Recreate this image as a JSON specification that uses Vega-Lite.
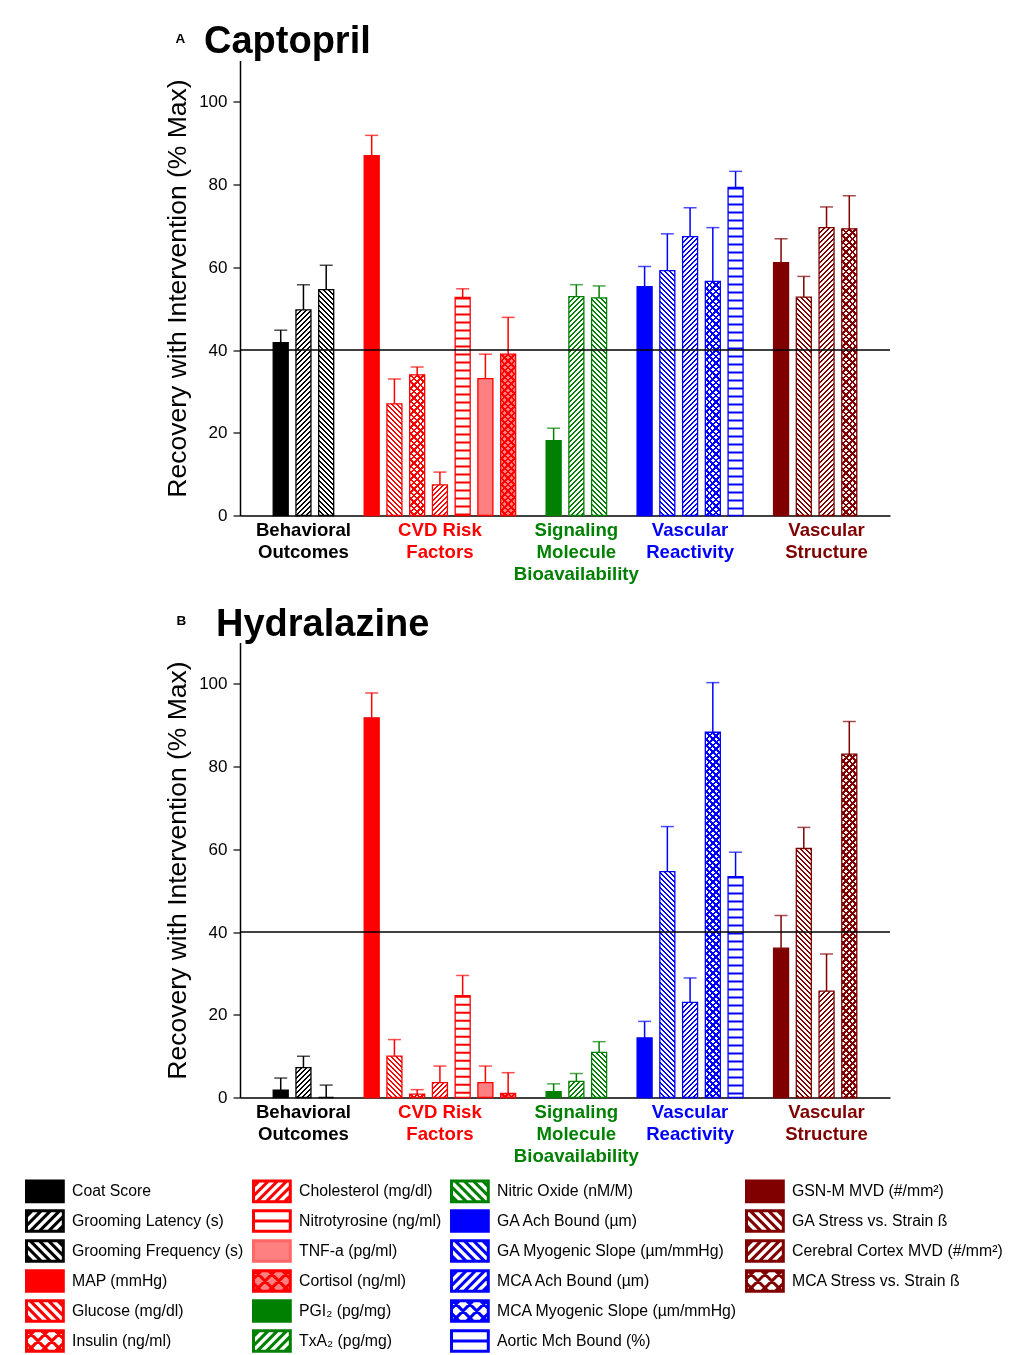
{
"$schema": "https://vega.github.io/schema/vega-lite/v6.json",
"padding": {"left": 25, "top": 22.5, "right": 0, "bottom": 0},
"background": "white",
"bounds": "flush",
"spacing": 127,
"config": {
 "font": "Liberation Sans",
 "view": {"stroke": null},
 "axis": {"domainColor": "#000", "tickColor": "#000", "labelColor": "#000", "titleColor": "#000", "labelFont": "Liberation Sans", "titleFont": "Liberation Sans", "grid": false},
 "title": {"font": "Liberation Sans", "color": "#000"}
},
"params": [
 {"name": "pat", "value": {"Coat Score":"s","Grooming Latency (s)":"f","Grooming Frequency (s)":"b","MAP (mmHg)":"s","Glucose (mg/dl)":"b","Insulin (ng/ml)":"x","Cholesterol (mg/dl)":"f","Nitrotyrosine (ng/ml)":"h","TNF-a (pg/ml)":"l","Cortisol (ng/ml)":"lx","PGI₂ (pg/mg)":"s","TxA₂ (pg/mg)":"f","Nitric Oxide (nM/M)":"b","GA Ach Bound (µm)":"s","GA Myogenic Slope (µm/mmHg)":"b","MCA Ach Bound (µm)":"f","MCA Myogenic Slope (µm/mmHg)":"x","Aortic Mch Bound (%)":"h","GSN-M MVD (#/mm²)":"s","GA Stress vs. Strain ß":"b","Cerebral Cortex MVD (#/mm²)":"f","MCA Stress vs. Strain ß":"x"}},
 {"name": "S", "value": [
{"offset":0,"color":"#000"},{"offset":0.004,"color":"#000"},{"offset":0.004,"color":"#fff"},{"offset":0.01,"color":"#fff"},
{"offset":0.01,"color":"#000"},{"offset":0.014,"color":"#000"},{"offset":0.014,"color":"#fff"},{"offset":0.02,"color":"#fff"},
{"offset":0.02,"color":"#000"},{"offset":0.024,"color":"#000"},{"offset":0.024,"color":"#fff"},{"offset":0.03,"color":"#fff"},
{"offset":0.03,"color":"#000"},{"offset":0.034,"color":"#000"},{"offset":0.034,"color":"#fff"},{"offset":0.04,"color":"#fff"},
{"offset":0.04,"color":"#000"},{"offset":0.044,"color":"#000"},{"offset":0.044,"color":"#fff"},{"offset":0.05,"color":"#fff"},
{"offset":0.05,"color":"#000"},{"offset":0.054,"color":"#000"},{"offset":0.054,"color":"#fff"},{"offset":0.06,"color":"#fff"},
{"offset":0.06,"color":"#000"},{"offset":0.064,"color":"#000"},{"offset":0.064,"color":"#fff"},{"offset":0.07,"color":"#fff"},
{"offset":0.07,"color":"#000"},{"offset":0.074,"color":"#000"},{"offset":0.074,"color":"#fff"},{"offset":0.08,"color":"#fff"},
{"offset":0.08,"color":"#000"},{"offset":0.084,"color":"#000"},{"offset":0.084,"color":"#fff"},{"offset":0.09,"color":"#fff"},
{"offset":0.09,"color":"#000"},{"offset":0.094,"color":"#000"},{"offset":0.094,"color":"#fff"},{"offset":0.1,"color":"#fff"},
{"offset":0.1,"color":"#000"},{"offset":0.104,"color":"#000"},{"offset":0.104,"color":"#fff"},{"offset":0.11,"color":"#fff"},
{"offset":0.11,"color":"#000"},{"offset":0.114,"color":"#000"},{"offset":0.114,"color":"#fff"},{"offset":0.12,"color":"#fff"},
{"offset":0.12,"color":"#000"},{"offset":0.124,"color":"#000"},{"offset":0.124,"color":"#fff"},{"offset":0.13,"color":"#fff"},
{"offset":0.13,"color":"#000"},{"offset":0.134,"color":"#000"},{"offset":0.134,"color":"#fff"},{"offset":0.14,"color":"#fff"},
{"offset":0.14,"color":"#000"},{"offset":0.144,"color":"#000"},{"offset":0.144,"color":"#fff"},{"offset":0.15,"color":"#fff"},
{"offset":0.15,"color":"#000"},{"offset":0.154,"color":"#000"},{"offset":0.154,"color":"#fff"},{"offset":0.16,"color":"#fff"},
{"offset":0.16,"color":"#000"},{"offset":0.164,"color":"#000"},{"offset":0.164,"color":"#fff"},{"offset":0.17,"color":"#fff"},
{"offset":0.17,"color":"#000"},{"offset":0.174,"color":"#000"},{"offset":0.174,"color":"#fff"},{"offset":0.18,"color":"#fff"},
{"offset":0.18,"color":"#000"},{"offset":0.184,"color":"#000"},{"offset":0.184,"color":"#fff"},{"offset":0.19,"color":"#fff"},
{"offset":0.19,"color":"#000"},{"offset":0.194,"color":"#000"},{"offset":0.194,"color":"#fff"},{"offset":0.2,"color":"#fff"},
{"offset":0.2,"color":"#000"},{"offset":0.204,"color":"#000"},{"offset":0.204,"color":"#fff"},{"offset":0.21,"color":"#fff"},
{"offset":0.21,"color":"#000"},{"offset":0.214,"color":"#000"},{"offset":0.214,"color":"#fff"},{"offset":0.22,"color":"#fff"},
{"offset":0.22,"color":"#000"},{"offset":0.224,"color":"#000"},{"offset":0.224,"color":"#fff"},{"offset":0.23,"color":"#fff"},
{"offset":0.23,"color":"#000"},{"offset":0.234,"color":"#000"},{"offset":0.234,"color":"#fff"},{"offset":0.24,"color":"#fff"},
{"offset":0.24,"color":"#000"},{"offset":0.244,"color":"#000"},{"offset":0.244,"color":"#fff"},{"offset":0.25,"color":"#fff"},
{"offset":0.25,"color":"#000"},{"offset":0.254,"color":"#000"},{"offset":0.254,"color":"#fff"},{"offset":0.26,"color":"#fff"},
{"offset":0.26,"color":"#000"},{"offset":0.264,"color":"#000"},{"offset":0.264,"color":"#fff"},{"offset":0.27,"color":"#fff"},
{"offset":0.27,"color":"#000"},{"offset":0.274,"color":"#000"},{"offset":0.274,"color":"#fff"},{"offset":0.28,"color":"#fff"},
{"offset":0.28,"color":"#000"},{"offset":0.284,"color":"#000"},{"offset":0.284,"color":"#fff"},{"offset":0.29,"color":"#fff"},
{"offset":0.29,"color":"#000"},{"offset":0.294,"color":"#000"},{"offset":0.294,"color":"#fff"},{"offset":0.3,"color":"#fff"},
{"offset":0.3,"color":"#000"},{"offset":0.304,"color":"#000"},{"offset":0.304,"color":"#fff"},{"offset":0.31,"color":"#fff"},
{"offset":0.31,"color":"#000"},{"offset":0.314,"color":"#000"},{"offset":0.314,"color":"#fff"},{"offset":0.32,"color":"#fff"},
{"offset":0.32,"color":"#000"},{"offset":0.324,"color":"#000"},{"offset":0.324,"color":"#fff"},{"offset":0.33,"color":"#fff"},
{"offset":0.33,"color":"#000"},{"offset":0.334,"color":"#000"},{"offset":0.334,"color":"#fff"},{"offset":0.34,"color":"#fff"},
{"offset":0.34,"color":"#000"},{"offset":0.344,"color":"#000"},{"offset":0.344,"color":"#fff"},{"offset":0.35,"color":"#fff"},
{"offset":0.35,"color":"#000"},{"offset":0.354,"color":"#000"},{"offset":0.354,"color":"#fff"},{"offset":0.36,"color":"#fff"},
{"offset":0.36,"color":"#000"},{"offset":0.364,"color":"#000"},{"offset":0.364,"color":"#fff"},{"offset":0.37,"color":"#fff"},
{"offset":0.37,"color":"#000"},{"offset":0.374,"color":"#000"},{"offset":0.374,"color":"#fff"},{"offset":0.38,"color":"#fff"},
{"offset":0.38,"color":"#000"},{"offset":0.384,"color":"#000"},{"offset":0.384,"color":"#fff"},{"offset":0.39,"color":"#fff"},
{"offset":0.39,"color":"#000"},{"offset":0.394,"color":"#000"},{"offset":0.394,"color":"#fff"},{"offset":0.4,"color":"#fff"},
{"offset":0.4,"color":"#000"},{"offset":0.404,"color":"#000"},{"offset":0.404,"color":"#fff"},{"offset":0.41,"color":"#fff"},
{"offset":0.41,"color":"#000"},{"offset":0.414,"color":"#000"},{"offset":0.414,"color":"#fff"},{"offset":0.42,"color":"#fff"},
{"offset":0.42,"color":"#000"},{"offset":0.424,"color":"#000"},{"offset":0.424,"color":"#fff"},{"offset":0.43,"color":"#fff"},
{"offset":0.43,"color":"#000"},{"offset":0.434,"color":"#000"},{"offset":0.434,"color":"#fff"},{"offset":0.44,"color":"#fff"},
{"offset":0.44,"color":"#000"},{"offset":0.444,"color":"#000"},{"offset":0.444,"color":"#fff"},{"offset":0.45,"color":"#fff"},
{"offset":0.45,"color":"#000"},{"offset":0.454,"color":"#000"},{"offset":0.454,"color":"#fff"},{"offset":0.46,"color":"#fff"},
{"offset":0.46,"color":"#000"},{"offset":0.464,"color":"#000"},{"offset":0.464,"color":"#fff"},{"offset":0.47,"color":"#fff"},
{"offset":0.47,"color":"#000"},{"offset":0.474,"color":"#000"},{"offset":0.474,"color":"#fff"},{"offset":0.48,"color":"#fff"},
{"offset":0.48,"color":"#000"},{"offset":0.484,"color":"#000"},{"offset":0.484,"color":"#fff"},{"offset":0.49,"color":"#fff"},
{"offset":0.49,"color":"#000"},{"offset":0.494,"color":"#000"},{"offset":0.494,"color":"#fff"},{"offset":0.5,"color":"#fff"},
{"offset":0.5,"color":"#000"},{"offset":0.504,"color":"#000"},{"offset":0.504,"color":"#fff"},{"offset":0.51,"color":"#fff"},
{"offset":0.51,"color":"#000"},{"offset":0.514,"color":"#000"},{"offset":0.514,"color":"#fff"},{"offset":0.52,"color":"#fff"},
{"offset":0.52,"color":"#000"},{"offset":0.524,"color":"#000"},{"offset":0.524,"color":"#fff"},{"offset":0.53,"color":"#fff"},
{"offset":0.53,"color":"#000"},{"offset":0.534,"color":"#000"},{"offset":0.534,"color":"#fff"},{"offset":0.54,"color":"#fff"},
{"offset":0.54,"color":"#000"},{"offset":0.544,"color":"#000"},{"offset":0.544,"color":"#fff"},{"offset":0.55,"color":"#fff"},
{"offset":0.55,"color":"#000"},{"offset":0.554,"color":"#000"},{"offset":0.554,"color":"#fff"},{"offset":0.56,"color":"#fff"},
{"offset":0.56,"color":"#000"},{"offset":0.564,"color":"#000"},{"offset":0.564,"color":"#fff"},{"offset":0.57,"color":"#fff"},
{"offset":0.57,"color":"#000"},{"offset":0.574,"color":"#000"},{"offset":0.574,"color":"#fff"},{"offset":0.58,"color":"#fff"},
{"offset":0.58,"color":"#000"},{"offset":0.584,"color":"#000"},{"offset":0.584,"color":"#fff"},{"offset":0.59,"color":"#fff"},
{"offset":0.59,"color":"#000"},{"offset":0.594,"color":"#000"},{"offset":0.594,"color":"#fff"},{"offset":0.6,"color":"#fff"},
{"offset":0.6,"color":"#000"},{"offset":0.604,"color":"#000"},{"offset":0.604,"color":"#fff"},{"offset":0.61,"color":"#fff"},
{"offset":0.61,"color":"#000"},{"offset":0.614,"color":"#000"},{"offset":0.614,"color":"#fff"},{"offset":0.62,"color":"#fff"},
{"offset":0.62,"color":"#000"},{"offset":0.624,"color":"#000"},{"offset":0.624,"color":"#fff"},{"offset":0.63,"color":"#fff"},
{"offset":0.63,"color":"#000"},{"offset":0.634,"color":"#000"},{"offset":0.634,"color":"#fff"},{"offset":0.64,"color":"#fff"},
{"offset":0.64,"color":"#000"},{"offset":0.644,"color":"#000"},{"offset":0.644,"color":"#fff"},{"offset":0.65,"color":"#fff"},
{"offset":0.65,"color":"#000"},{"offset":0.654,"color":"#000"},{"offset":0.654,"color":"#fff"},{"offset":0.66,"color":"#fff"},
{"offset":0.66,"color":"#000"},{"offset":0.664,"color":"#000"},{"offset":0.664,"color":"#fff"},{"offset":0.67,"color":"#fff"},
{"offset":0.67,"color":"#000"},{"offset":0.674,"color":"#000"},{"offset":0.674,"color":"#fff"},{"offset":0.68,"color":"#fff"},
{"offset":0.68,"color":"#000"},{"offset":0.684,"color":"#000"},{"offset":0.684,"color":"#fff"},{"offset":0.69,"color":"#fff"},
{"offset":0.69,"color":"#000"},{"offset":0.694,"color":"#000"},{"offset":0.694,"color":"#fff"},{"offset":0.7,"color":"#fff"},
{"offset":0.7,"color":"#000"},{"offset":0.704,"color":"#000"},{"offset":0.704,"color":"#fff"},{"offset":0.71,"color":"#fff"},
{"offset":0.71,"color":"#000"},{"offset":0.714,"color":"#000"},{"offset":0.714,"color":"#fff"},{"offset":0.72,"color":"#fff"},
{"offset":0.72,"color":"#000"},{"offset":0.724,"color":"#000"},{"offset":0.724,"color":"#fff"},{"offset":0.73,"color":"#fff"},
{"offset":0.73,"color":"#000"},{"offset":0.734,"color":"#000"},{"offset":0.734,"color":"#fff"},{"offset":0.74,"color":"#fff"},
{"offset":0.74,"color":"#000"},{"offset":0.744,"color":"#000"},{"offset":0.744,"color":"#fff"},{"offset":0.75,"color":"#fff"},
{"offset":0.75,"color":"#000"},{"offset":0.754,"color":"#000"},{"offset":0.754,"color":"#fff"},{"offset":0.76,"color":"#fff"},
{"offset":0.76,"color":"#000"},{"offset":0.764,"color":"#000"},{"offset":0.764,"color":"#fff"},{"offset":0.77,"color":"#fff"}
 ]}
],
"datasets": {"bars": [
 {"panel":"Captopril","name":"Coat Score","v":41.8,"hi":44.8},
 {"panel":"Captopril","name":"Grooming Latency (s)","v":49.7,"hi":55.8},
 {"panel":"Captopril","name":"Grooming Frequency (s)","v":54.6,"hi":60.5},
 {"panel":"Captopril","name":"MAP (mmHg)","v":87.0,"hi":91.9},
 {"panel":"Captopril","name":"Glucose (mg/dl)","v":27.0,"hi":33.0},
 {"panel":"Captopril","name":"Insulin (ng/ml)","v":34.0,"hi":35.9},
 {"panel":"Captopril","name":"Cholesterol (mg/dl)","v":7.4,"hi":10.5},
 {"panel":"Captopril","name":"Nitrotyrosine (ng/ml)","v":52.7,"hi":54.8},
 {"panel":"Captopril","name":"TNF-a (pg/ml)","v":33.1,"hi":39.0},
 {"panel":"Captopril","name":"Cortisol (ng/ml)","v":39.0,"hi":47.9},
 {"panel":"Captopril","name":"PGI₂ (pg/mg)","v":18.1,"hi":21.1},
 {"panel":"Captopril","name":"TxA₂ (pg/mg)","v":52.9,"hi":55.8},
 {"panel":"Captopril","name":"Nitric Oxide (nM/M)","v":52.6,"hi":55.5},
 {"panel":"Captopril","name":"GA Ach Bound (µm)","v":55.3,"hi":60.2},
 {"panel":"Captopril","name":"GA Myogenic Slope (µm/mmHg)","v":59.2,"hi":68.1},
 {"panel":"Captopril","name":"MCA Ach Bound (µm)","v":67.4,"hi":74.4},
 {"panel":"Captopril","name":"MCA Myogenic Slope (µm/mmHg)","v":56.6,"hi":69.6},
 {"panel":"Captopril","name":"Aortic Mch Bound (%)","v":79.3,"hi":83.2},
 {"panel":"Captopril","name":"GSN-M MVD (#/mm²)","v":61.1,"hi":66.9},
 {"panel":"Captopril","name":"GA Stress vs. Strain ß","v":52.8,"hi":57.8},
 {"panel":"Captopril","name":"Cerebral Cortex MVD (#/mm²)","v":69.6,"hi":74.6},
 {"panel":"Captopril","name":"MCA Stress vs. Strain ß","v":69.3,"hi":77.3},
 {"panel":"Hydralazine","name":"Coat Score","v":1.8,"hi":4.7},
 {"panel":"Hydralazine","name":"Grooming Latency (s)","v":7.2,"hi":10.0},
 {"panel":"Hydralazine","name":"Grooming Frequency (s)","v":0,"hi":3.0},
 {"panel":"Hydralazine","name":"MAP (mmHg)","v":91.8,"hi":97.8},
 {"panel":"Hydralazine","name":"Glucose (mg/dl)","v":10.0,"hi":14.0},
 {"panel":"Hydralazine","name":"Insulin (ng/ml)","v":0.8,"hi":1.9},
 {"panel":"Hydralazine","name":"Cholesterol (mg/dl)","v":3.6,"hi":7.6},
 {"panel":"Hydralazine","name":"Nitrotyrosine (ng/ml)","v":24.6,"hi":29.5},
 {"panel":"Hydralazine","name":"TNF-a (pg/ml)","v":3.6,"hi":7.6},
 {"panel":"Hydralazine","name":"Cortisol (ng/ml)","v":1.0,"hi":6.0},
 {"panel":"Hydralazine","name":"PGI₂ (pg/mg)","v":1.4,"hi":3.3},
 {"panel":"Hydralazine","name":"TxA₂ (pg/mg)","v":3.9,"hi":5.8},
 {"panel":"Hydralazine","name":"Nitric Oxide (nM/M)","v":10.9,"hi":13.5},
 {"panel":"Hydralazine","name":"GA Ach Bound (µm)","v":14.4,"hi":18.4},
 {"panel":"Hydralazine","name":"GA Myogenic Slope (µm/mmHg)","v":54.6,"hi":65.5},
 {"panel":"Hydralazine","name":"MCA Ach Bound (µm)","v":23.0,"hi":28.9},
 {"panel":"Hydralazine","name":"MCA Myogenic Slope (µm/mmHg)","v":88.3,"hi":100.3},
 {"panel":"Hydralazine","name":"Aortic Mch Bound (%)","v":53.4,"hi":59.3},
 {"panel":"Hydralazine","name":"GSN-M MVD (#/mm²)","v":36.1,"hi":44.0},
 {"panel":"Hydralazine","name":"GA Stress vs. Strain ß","v":60.2,"hi":65.3},
 {"panel":"Hydralazine","name":"Cerebral Cortex MVD (#/mm²)","v":25.7,"hi":34.7},
 {"panel":"Hydralazine","name":"MCA Stress vs. Strain ß","v":83.0,"hi":90.9}
]},
"vconcat": [
 {
  "title": {"text": "Captopril", "anchor": "start", "frame": "group", "dx": -36, "fontSize": 38, "fontWeight": "bold", "offset": -30},
  "width": 650,
  "height": 455,
  "resolve": {"scale": {"y": "independent"}, "axis": {"y": "independent"}},
  "layer": [
   {
    "data": {"name": "bars"},
    "transform": [{"filter": "datum.panel == 'Captopril'"}],
    "encoding": {
     "x": {
      "field": "name",
      "type": "nominal",
      "scale": {"domain": ["_0","Coat Score","Grooming Latency (s)","Grooming Frequency (s)","_1","MAP (mmHg)","Glucose (mg/dl)","Insulin (ng/ml)","Cholesterol (mg/dl)","Nitrotyrosine (ng/ml)","TNF-a (pg/ml)","Cortisol (ng/ml)","_2","PGI₂ (pg/mg)","TxA₂ (pg/mg)","Nitric Oxide (nM/M)","_3","GA Ach Bound (µm)","GA Myogenic Slope (µm/mmHg)","MCA Ach Bound (µm)","MCA Myogenic Slope (µm/mmHg)","Aortic Mch Bound (%)","_4","GSN-M MVD (#/mm²)","GA Stress vs. Strain ß","Cerebral Cortex MVD (#/mm²)","MCA Stress vs. Strain ß","_5"], "paddingInner": 0, "paddingOuter": 0.29},
      "axis": {
       "title": null,
       "values": ["Grooming Latency (s)","Cholesterol (mg/dl)","TxA₂ (pg/mg)","MCA Ach Bound (µm)","Cerebral Cortex MVD (#/mm²)"],
       "ticks": false, "tickSize": 0, "domainWidth": 1.5, "labelAngle": 0, "labelFontSize": 18.6, "labelFontWeight": "bold", "labelPadding": 5, "labelLineHeight": 22, "labelLimit": 0, "labelOverlap": false, "labelBaseline": "top", "labelFlush": false,
       "labelExpr": "datum.value=='Grooming Latency (s)' ? ['Behavioral','Outcomes'] : datum.value=='Cholesterol (mg/dl)' ? ['CVD Risk','Factors'] : datum.value=='TxA₂ (pg/mg)' ? ['Signaling','Molecule','Bioavailability'] : datum.value=='MCA Ach Bound (µm)' ? ['Vascular','Reactivity'] : ['Vascular','Structure']",
       "labelColor": {"expr": "datum.value=='Cholesterol (mg/dl)' ? '#ff0000' : datum.value=='TxA₂ (pg/mg)' ? '#008000' : datum.value=='MCA Ach Bound (µm)' ? '#0000ff' : datum.value=='Cerebral Cortex MVD (#/mm²)' ? '#800000' : '#000000'"}
      }
     },
     "y": {
      "field": "v",
      "type": "quantitative",
      "scale": {"domain": [0, 110], "nice": false},
      "axis": {"title": "Recovery with Intervention (% Max)", "values": [0,20,40,60,80,100], "tickSize": 7, "tickWidth": 1.2, "domainWidth": 1.5, "labelFontSize": 17, "labelPadding": 6, "titleFontSize": 26.5, "titleFontWeight": "normal", "titlePadding": 7}
     }
    },
    "layer": [
     {"mark": {"type": "bar", "width": 15, "stroke": null, "fill": {"expr": "pat[datum.name]=='s' ? '#000' : pat[datum.name]=='b' ? {gradient:'linear',x1:1,y1:0,x2:1-7500/(225+pow(datum.v*4.13636,2)),y2:500*datum.v*4.13636/(225+pow(datum.v*4.13636,2)),stops:S} : (pat[datum.name]=='h' || pat[datum.name]=='l') ? '#fff' : pat[datum.name]=='f' ? {gradient:'linear',x1:0,y1:0,x2:7500/(225+pow(datum.v*4.13636,2)),y2:500*datum.v*4.13636/(225+pow(datum.v*4.13636,2)),stops:S} : {gradient:'linear',x1:0,y1:0,x2:9750/(225+pow(datum.v*4.13636,2)),y2:650*datum.v*4.13636/(225+pow(datum.v*4.13636,2)),stops:S}"}}},
     {"transform": [{"filter": "pat[datum.name]=='h'"}], "mark": {"type": "rule", "strokeWidth": 15, "strokeDash": [2, 6], "color": "#000", "strokeCap": "butt"}, "encoding": {"y2": {"datum": 0}}},
     {"transform": [{"filter": "pat[datum.name]=='x' || pat[datum.name]=='lx'"}], "mark": {"type": "bar", "width": 15, "stroke": null, "blend": "darken", "fill": {"expr": "{gradient:'linear',x1:1,y1:0,x2:1-9750/(225+pow(datum.v*4.13636,2)),y2:650*datum.v*4.13636/(225+pow(datum.v*4.13636,2)),stops:S}"}}},
     {"transform": [{"filter": "pat[datum.name]=='l' || pat[datum.name]=='lx'"}], "mark": {"type": "bar", "width": 15, "stroke": null, "blend": "darken", "fill": "#808080"}},
     {
      "mark": {"type": "bar", "width": 15, "strokeWidth": 0, "blend": "screen"},
      "encoding": {
       "color": {
        "field": "name", "type": "nominal", "legend": null,
        "scale": {
         "domain": ["Coat Score","Grooming Latency (s)","Grooming Frequency (s)","MAP (mmHg)","Glucose (mg/dl)","Insulin (ng/ml)","Cholesterol (mg/dl)","Nitrotyrosine (ng/ml)","TNF-a (pg/ml)","Cortisol (ng/ml)","PGI₂ (pg/mg)","TxA₂ (pg/mg)","Nitric Oxide (nM/M)","GA Ach Bound (µm)","GA Myogenic Slope (µm/mmHg)","MCA Ach Bound (µm)","MCA Myogenic Slope (µm/mmHg)","Aortic Mch Bound (%)","GSN-M MVD (#/mm²)","GA Stress vs. Strain ß","Cerebral Cortex MVD (#/mm²)","MCA Stress vs. Strain ß","_z"],
         "range": ["#000000","#000000","#000000","#ff0000","#ff0000","#ff0000","#ff0000","#ff0000","#ff0000","#ff0000","#008000","#008000","#008000","#0000ff","#0000ff","#0000ff","#0000ff","#0000ff","#800000","#800000","#800000","#800000","#ffffff"]
        }
       }
      }
     },
     {
      "mark": {"type": "bar", "width": 15, "filled": false, "strokeWidth": 1.3},
      "encoding": {"color": {"field": "name", "type": "nominal", "legend": null}}
     },
     {
      "mark": {"type": "rule", "strokeWidth": 1.5},
      "encoding": {"y2": {"field": "hi"}, "color": {"field": "name", "type": "nominal", "legend": null}}
     },
     {
      "mark": {"type": "tick", "thickness": 1.5, "size": 13},
      "encoding": {"y": {"field": "hi", "type": "quantitative"}, "color": {"field": "name", "type": "nominal", "legend": null}}
     },
     {
      "mark": {"type": "point", "filled": true, "opacity": 0},
      "encoding": {
       "shape": {"field": "name", "type": "nominal",
        "scale": {"domain": ["Coat Score","Grooming Latency (s)","Grooming Frequency (s)","MAP (mmHg)","Glucose (mg/dl)","Insulin (ng/ml)","Cholesterol (mg/dl)","Nitrotyrosine (ng/ml)","TNF-a (pg/ml)","Cortisol (ng/ml)","PGI₂ (pg/mg)","TxA₂ (pg/mg)","Nitric Oxide (nM/M)","GA Ach Bound (µm)","GA Myogenic Slope (µm/mmHg)","MCA Ach Bound (µm)","MCA Myogenic Slope (µm/mmHg)","Aortic Mch Bound (%)","GSN-M MVD (#/mm²)","GA Stress vs. Strain ß","Cerebral Cortex MVD (#/mm²)","MCA Stress vs. Strain ß"," "],
         "range": [
          "M-1.6,-0.9H1.6V0.9H-1.6Z",
          "M-1.6,-0.9H1.6V0.9H-1.6ZM-1.1,-0.9L-1.6,-0.4M-0.3,-0.9L-1.6,0.4M0.5,-0.9L-1.3,0.9M1.3,-0.9L-0.5,0.9M1.6,-0.4L0.3,0.9M1.6,0.4L1.1,0.9",
          "M-1.6,-0.9H1.6V0.9H-1.6ZM1.1,-0.9L1.6,-0.4M0.3,-0.9L1.6,0.4M-0.5,-0.9L1.3,0.9M-1.3,-0.9L0.5,0.9M-1.6,-0.4L-0.3,0.9M-1.6,0.4L-1.1,0.9",
          "M-1.6,-0.9H1.6V0.9H-1.6Z",
          "M-1.6,-0.9H1.6V0.9H-1.6ZM1.1,-0.9L1.6,-0.4M0.3,-0.9L1.6,0.4M-0.5,-0.9L1.3,0.9M-1.3,-0.9L0.5,0.9M-1.6,-0.4L-0.3,0.9M-1.6,0.4L-1.1,0.9",
          "M-1.6,-0.9H1.6V0.9H-1.6ZM-0.9,-0.9L-1.6,-0.2M0.3,-0.9L-1.5,0.9M1.5,-0.9L-0.3,0.9M1.6,0.2L0.9,0.9M0.9,-0.9L1.6,-0.2M-0.3,-0.9L1.5,0.9M-1.5,-0.9L0.3,0.9M-1.6,0.2L-0.9,0.9",
          "M-1.6,-0.9H1.6V0.9H-1.6ZM-1.1,-0.9L-1.6,-0.4M-0.3,-0.9L-1.6,0.4M0.5,-0.9L-1.3,0.9M1.3,-0.9L-0.5,0.9M1.6,-0.4L0.3,0.9M1.6,0.4L1.1,0.9",
          "M-1.6,-0.9H1.6V0.9H-1.6ZM-1.6,0H1.6",
          "M-1.6,-0.9H1.6V0.9H-1.6Z",
          "M-1.6,-0.9H1.6V0.9H-1.6ZM-0.9,-0.9L-1.6,-0.2M0.3,-0.9L-1.5,0.9M1.5,-0.9L-0.3,0.9M1.6,0.2L0.9,0.9M0.9,-0.9L1.6,-0.2M-0.3,-0.9L1.5,0.9M-1.5,-0.9L0.3,0.9M-1.6,0.2L-0.9,0.9",
          "M-1.6,-0.9H1.6V0.9H-1.6Z",
          "M-1.6,-0.9H1.6V0.9H-1.6ZM-1.1,-0.9L-1.6,-0.4M-0.3,-0.9L-1.6,0.4M0.5,-0.9L-1.3,0.9M1.3,-0.9L-0.5,0.9M1.6,-0.4L0.3,0.9M1.6,0.4L1.1,0.9",
          "M-1.6,-0.9H1.6V0.9H-1.6ZM1.1,-0.9L1.6,-0.4M0.3,-0.9L1.6,0.4M-0.5,-0.9L1.3,0.9M-1.3,-0.9L0.5,0.9M-1.6,-0.4L-0.3,0.9M-1.6,0.4L-1.1,0.9",
          "M-1.6,-0.9H1.6V0.9H-1.6Z",
          "M-1.6,-0.9H1.6V0.9H-1.6ZM1.1,-0.9L1.6,-0.4M0.3,-0.9L1.6,0.4M-0.5,-0.9L1.3,0.9M-1.3,-0.9L0.5,0.9M-1.6,-0.4L-0.3,0.9M-1.6,0.4L-1.1,0.9",
          "M-1.6,-0.9H1.6V0.9H-1.6ZM-1.1,-0.9L-1.6,-0.4M-0.3,-0.9L-1.6,0.4M0.5,-0.9L-1.3,0.9M1.3,-0.9L-0.5,0.9M1.6,-0.4L0.3,0.9M1.6,0.4L1.1,0.9",
          "M-1.6,-0.9H1.6V0.9H-1.6ZM-0.9,-0.9L-1.6,-0.2M0.3,-0.9L-1.5,0.9M1.5,-0.9L-0.3,0.9M1.6,0.2L0.9,0.9M0.9,-0.9L1.6,-0.2M-0.3,-0.9L1.5,0.9M-1.5,-0.9L0.3,0.9M-1.6,0.2L-0.9,0.9",
          "M-1.6,-0.9H1.6V0.9H-1.6ZM-1.6,0H1.6",
          "M-1.6,-0.9H1.6V0.9H-1.6Z",
          "M-1.6,-0.9H1.6V0.9H-1.6ZM1.1,-0.9L1.6,-0.4M0.3,-0.9L1.6,0.4M-0.5,-0.9L1.3,0.9M-1.3,-0.9L0.5,0.9M-1.6,-0.4L-0.3,0.9M-1.6,0.4L-1.1,0.9",
          "M-1.6,-0.9H1.6V0.9H-1.6ZM-1.1,-0.9L-1.6,-0.4M-0.3,-0.9L-1.6,0.4M0.5,-0.9L-1.3,0.9M1.3,-0.9L-0.5,0.9M1.6,-0.4L0.3,0.9M1.6,0.4L1.1,0.9",
          "M-1.6,-0.9H1.6V0.9H-1.6ZM-0.9,-0.9L-1.6,-0.2M0.3,-0.9L-1.5,0.9M1.5,-0.9L-0.3,0.9M1.6,0.2L0.9,0.9M0.9,-0.9L1.6,-0.2M-0.3,-0.9L1.5,0.9M-1.5,-0.9L0.3,0.9M-1.6,0.2L-0.9,0.9",
          "M-1.6,-0.9H1.6V0.9H-1.6Z"
         ]},
        "legend": {"orient": "none", "legendX": -215, "legendY": 1117.5, "columns": 4, "title": null, "symbolSize": 529, "symbolStrokeWidth": 3, "symbolOffset": 6.9, "labelOffset": 14.1, "labelFontSize": 15.8, "labelFont": "Liberation Sans", "labelColor": "#000", "labelLimit": 0, "columnPadding": 3, "rowPadding": -17, "gridAlign": "each", "symbolOpacity": 1}
       },
       "fill": {"field": "name", "type": "nominal",
        "scale": {"domain": ["Coat Score","Grooming Latency (s)","Grooming Frequency (s)","MAP (mmHg)","Glucose (mg/dl)","Insulin (ng/ml)","Cholesterol (mg/dl)","Nitrotyrosine (ng/ml)","TNF-a (pg/ml)","Cortisol (ng/ml)","PGI₂ (pg/mg)","TxA₂ (pg/mg)","Nitric Oxide (nM/M)","GA Ach Bound (µm)","GA Myogenic Slope (µm/mmHg)","MCA Ach Bound (µm)","MCA Myogenic Slope (µm/mmHg)","Aortic Mch Bound (%)","GSN-M MVD (#/mm²)","GA Stress vs. Strain ß","Cerebral Cortex MVD (#/mm²)","MCA Stress vs. Strain ß"," "],
         "range": ["#000000","#ffffff","#ffffff","#ff0000","#ffffff","#ffffff","#ffffff","#ffffff","#ff8080","#ff8080","#008000","#ffffff","#ffffff","#0000ff","#ffffff","#ffffff","#ffffff","#ffffff","#800000","#ffffff","#ffffff","#ffffff","#ffffff"]},
        "legend": {"orient": "none", "legendX": -215, "legendY": 1117.5, "columns": 4, "title": null, "symbolSize": 529, "symbolStrokeWidth": 3, "symbolOffset": 6.9, "labelOffset": 14.1, "labelFontSize": 15.8, "labelFont": "Liberation Sans", "labelColor": "#000", "labelLimit": 0, "columnPadding": 3, "rowPadding": -17, "gridAlign": "each", "symbolOpacity": 1}
       },
       "stroke": {"field": "name", "type": "nominal",
        "scale": {"domain": ["Coat Score","Grooming Latency (s)","Grooming Frequency (s)","MAP (mmHg)","Glucose (mg/dl)","Insulin (ng/ml)","Cholesterol (mg/dl)","Nitrotyrosine (ng/ml)","TNF-a (pg/ml)","Cortisol (ng/ml)","PGI₂ (pg/mg)","TxA₂ (pg/mg)","Nitric Oxide (nM/M)","GA Ach Bound (µm)","GA Myogenic Slope (µm/mmHg)","MCA Ach Bound (µm)","MCA Myogenic Slope (µm/mmHg)","Aortic Mch Bound (%)","GSN-M MVD (#/mm²)","GA Stress vs. Strain ß","Cerebral Cortex MVD (#/mm²)","MCA Stress vs. Strain ß"," "],
         "range": ["#000000","#000000","#000000","#ff0000","#ff0000","#ff0000","#ff0000","#ff0000","#ff6666","#ff0000","#008000","#008000","#008000","#0000ff","#0000ff","#0000ff","#0000ff","#0000ff","#800000","#800000","#800000","#800000","#ffffff"]},
        "legend": {"orient": "none", "legendX": -215, "legendY": 1117.5, "columns": 4, "title": null, "symbolSize": 529, "symbolStrokeWidth": 3, "symbolOffset": 6.9, "labelOffset": 14.1, "labelFontSize": 15.8, "labelFont": "Liberation Sans", "labelColor": "#000", "labelLimit": 0, "columnPadding": 3, "rowPadding": -17, "gridAlign": "each", "symbolOpacity": 1}
       }
      }
     }
    ]
   },
   {
    "data": {"values": [{"ref": 40}]},
    "mark": {"type": "rule", "color": "#000", "strokeWidth": 1.5},
    "encoding": {"y": {"field": "ref", "type": "quantitative", "scale": {"domain": [0, 110], "nice": false},
      "axis": {"orient": "right", "title": "A", "labels": false, "ticks": false, "domain": false, "grid": false, "titleAngle": 0, "titleX": -715, "titleY": -18.4, "titleAlign": "left", "titleBaseline": "alphabetic", "titleFontSize": 13.5, "titleFontWeight": "bold", "titleColor": "#000"}}}
   }
  ]
 },
 {
  "title": {"text": "Hydralazine", "anchor": "start", "frame": "group", "dx": -24, "fontSize": 38, "fontWeight": "bold", "offset": -30},
  "width": 650,
  "height": 455,
  "resolve": {"scale": {"y": "independent"}, "axis": {"y": "independent"}},
  "layer": [
   {
    "data": {"name": "bars"},
    "transform": [{"filter": "datum.panel == 'Hydralazine'"}],
    "encoding": {
     "x": {
      "field": "name",
      "type": "nominal",
      "scale": {"domain": ["_0","Coat Score","Grooming Latency (s)","Grooming Frequency (s)","_1","MAP (mmHg)","Glucose (mg/dl)","Insulin (ng/ml)","Cholesterol (mg/dl)","Nitrotyrosine (ng/ml)","TNF-a (pg/ml)","Cortisol (ng/ml)","_2","PGI₂ (pg/mg)","TxA₂ (pg/mg)","Nitric Oxide (nM/M)","_3","GA Ach Bound (µm)","GA Myogenic Slope (µm/mmHg)","MCA Ach Bound (µm)","MCA Myogenic Slope (µm/mmHg)","Aortic Mch Bound (%)","_4","GSN-M MVD (#/mm²)","GA Stress vs. Strain ß","Cerebral Cortex MVD (#/mm²)","MCA Stress vs. Strain ß","_5"], "paddingInner": 0, "paddingOuter": 0.29},
      "axis": {
       "title": null,
       "values": ["Grooming Latency (s)","Cholesterol (mg/dl)","TxA₂ (pg/mg)","MCA Ach Bound (µm)","Cerebral Cortex MVD (#/mm²)"],
       "ticks": false, "tickSize": 0, "domainWidth": 1.5, "labelAngle": 0, "labelFontSize": 18.6, "labelFontWeight": "bold", "labelPadding": 5, "labelLineHeight": 22, "labelLimit": 0, "labelOverlap": false, "labelBaseline": "top", "labelFlush": false,
       "labelExpr": "datum.value=='Grooming Latency (s)' ? ['Behavioral','Outcomes'] : datum.value=='Cholesterol (mg/dl)' ? ['CVD Risk','Factors'] : datum.value=='TxA₂ (pg/mg)' ? ['Signaling','Molecule','Bioavailability'] : datum.value=='MCA Ach Bound (µm)' ? ['Vascular','Reactivity'] : ['Vascular','Structure']",
       "labelColor": {"expr": "datum.value=='Cholesterol (mg/dl)' ? '#ff0000' : datum.value=='TxA₂ (pg/mg)' ? '#008000' : datum.value=='MCA Ach Bound (µm)' ? '#0000ff' : datum.value=='Cerebral Cortex MVD (#/mm²)' ? '#800000' : '#000000'"}
      }
     },
     "y": {
      "field": "v",
      "type": "quantitative",
      "scale": {"domain": [0, 110], "nice": false},
      "axis": {"title": "Recovery with Intervention (% Max)", "values": [0,20,40,60,80,100], "tickSize": 7, "tickWidth": 1.2, "domainWidth": 1.5, "labelFontSize": 17, "labelPadding": 6, "titleFontSize": 26.5, "titleFontWeight": "normal", "titlePadding": 7}
     }
    },
    "layer": [
     {"mark": {"type": "bar", "width": 15, "stroke": null, "fill": {"expr": "pat[datum.name]=='s' ? '#000' : pat[datum.name]=='b' ? {gradient:'linear',x1:1,y1:0,x2:1-7500/(225+pow(datum.v*4.13636,2)),y2:500*datum.v*4.13636/(225+pow(datum.v*4.13636,2)),stops:S} : (pat[datum.name]=='h' || pat[datum.name]=='l') ? '#fff' : pat[datum.name]=='f' ? {gradient:'linear',x1:0,y1:0,x2:7500/(225+pow(datum.v*4.13636,2)),y2:500*datum.v*4.13636/(225+pow(datum.v*4.13636,2)),stops:S} : {gradient:'linear',x1:0,y1:0,x2:9750/(225+pow(datum.v*4.13636,2)),y2:650*datum.v*4.13636/(225+pow(datum.v*4.13636,2)),stops:S}"}}},
     {"transform": [{"filter": "pat[datum.name]=='h'"}], "mark": {"type": "rule", "strokeWidth": 15, "strokeDash": [2, 6], "color": "#000", "strokeCap": "butt"}, "encoding": {"y2": {"datum": 0}}},
     {"transform": [{"filter": "pat[datum.name]=='x' || pat[datum.name]=='lx'"}], "mark": {"type": "bar", "width": 15, "stroke": null, "blend": "darken", "fill": {"expr": "{gradient:'linear',x1:1,y1:0,x2:1-9750/(225+pow(datum.v*4.13636,2)),y2:650*datum.v*4.13636/(225+pow(datum.v*4.13636,2)),stops:S}"}}},
     {"transform": [{"filter": "pat[datum.name]=='l' || pat[datum.name]=='lx'"}], "mark": {"type": "bar", "width": 15, "stroke": null, "blend": "darken", "fill": "#808080"}},
     {
      "mark": {"type": "bar", "width": 15, "strokeWidth": 0, "blend": "screen"},
      "encoding": {
       "color": {
        "field": "name", "type": "nominal", "legend": null,
        "scale": {
         "domain": ["Coat Score","Grooming Latency (s)","Grooming Frequency (s)","MAP (mmHg)","Glucose (mg/dl)","Insulin (ng/ml)","Cholesterol (mg/dl)","Nitrotyrosine (ng/ml)","TNF-a (pg/ml)","Cortisol (ng/ml)","PGI₂ (pg/mg)","TxA₂ (pg/mg)","Nitric Oxide (nM/M)","GA Ach Bound (µm)","GA Myogenic Slope (µm/mmHg)","MCA Ach Bound (µm)","MCA Myogenic Slope (µm/mmHg)","Aortic Mch Bound (%)","GSN-M MVD (#/mm²)","GA Stress vs. Strain ß","Cerebral Cortex MVD (#/mm²)","MCA Stress vs. Strain ß","_z"],
         "range": ["#000000","#000000","#000000","#ff0000","#ff0000","#ff0000","#ff0000","#ff0000","#ff0000","#ff0000","#008000","#008000","#008000","#0000ff","#0000ff","#0000ff","#0000ff","#0000ff","#800000","#800000","#800000","#800000","#ffffff"]
        }
       }
      }
     },
     {
      "mark": {"type": "bar", "width": 15, "filled": false, "strokeWidth": 1.3},
      "encoding": {"color": {"field": "name", "type": "nominal", "legend": null}}
     },
     {
      "mark": {"type": "rule", "strokeWidth": 1.5},
      "encoding": {"y2": {"field": "hi"}, "color": {"field": "name", "type": "nominal", "legend": null}}
     },
     {
      "mark": {"type": "tick", "thickness": 1.5, "size": 13},
      "encoding": {"y": {"field": "hi", "type": "quantitative"}, "color": {"field": "name", "type": "nominal", "legend": null}}
     },
     {
      "mark": {"type": "point", "filled": true, "opacity": 0},
      "encoding": {
       "shape": {"field": "name", "type": "nominal",
        "scale": {"domain": ["Coat Score","Grooming Latency (s)","Grooming Frequency (s)","MAP (mmHg)","Glucose (mg/dl)","Insulin (ng/ml)","Cholesterol (mg/dl)","Nitrotyrosine (ng/ml)","TNF-a (pg/ml)","Cortisol (ng/ml)","PGI₂ (pg/mg)","TxA₂ (pg/mg)","Nitric Oxide (nM/M)","GA Ach Bound (µm)","GA Myogenic Slope (µm/mmHg)","MCA Ach Bound (µm)","MCA Myogenic Slope (µm/mmHg)","Aortic Mch Bound (%)","GSN-M MVD (#/mm²)","GA Stress vs. Strain ß","Cerebral Cortex MVD (#/mm²)","MCA Stress vs. Strain ß"," "],
         "range": [
          "M-1.6,-0.9H1.6V0.9H-1.6Z",
          "M-1.6,-0.9H1.6V0.9H-1.6ZM-1.1,-0.9L-1.6,-0.4M-0.3,-0.9L-1.6,0.4M0.5,-0.9L-1.3,0.9M1.3,-0.9L-0.5,0.9M1.6,-0.4L0.3,0.9M1.6,0.4L1.1,0.9",
          "M-1.6,-0.9H1.6V0.9H-1.6ZM1.1,-0.9L1.6,-0.4M0.3,-0.9L1.6,0.4M-0.5,-0.9L1.3,0.9M-1.3,-0.9L0.5,0.9M-1.6,-0.4L-0.3,0.9M-1.6,0.4L-1.1,0.9",
          "M-1.6,-0.9H1.6V0.9H-1.6Z",
          "M-1.6,-0.9H1.6V0.9H-1.6ZM1.1,-0.9L1.6,-0.4M0.3,-0.9L1.6,0.4M-0.5,-0.9L1.3,0.9M-1.3,-0.9L0.5,0.9M-1.6,-0.4L-0.3,0.9M-1.6,0.4L-1.1,0.9",
          "M-1.6,-0.9H1.6V0.9H-1.6ZM-0.9,-0.9L-1.6,-0.2M0.3,-0.9L-1.5,0.9M1.5,-0.9L-0.3,0.9M1.6,0.2L0.9,0.9M0.9,-0.9L1.6,-0.2M-0.3,-0.9L1.5,0.9M-1.5,-0.9L0.3,0.9M-1.6,0.2L-0.9,0.9",
          "M-1.6,-0.9H1.6V0.9H-1.6ZM-1.1,-0.9L-1.6,-0.4M-0.3,-0.9L-1.6,0.4M0.5,-0.9L-1.3,0.9M1.3,-0.9L-0.5,0.9M1.6,-0.4L0.3,0.9M1.6,0.4L1.1,0.9",
          "M-1.6,-0.9H1.6V0.9H-1.6ZM-1.6,0H1.6",
          "M-1.6,-0.9H1.6V0.9H-1.6Z",
          "M-1.6,-0.9H1.6V0.9H-1.6ZM-0.9,-0.9L-1.6,-0.2M0.3,-0.9L-1.5,0.9M1.5,-0.9L-0.3,0.9M1.6,0.2L0.9,0.9M0.9,-0.9L1.6,-0.2M-0.3,-0.9L1.5,0.9M-1.5,-0.9L0.3,0.9M-1.6,0.2L-0.9,0.9",
          "M-1.6,-0.9H1.6V0.9H-1.6Z",
          "M-1.6,-0.9H1.6V0.9H-1.6ZM-1.1,-0.9L-1.6,-0.4M-0.3,-0.9L-1.6,0.4M0.5,-0.9L-1.3,0.9M1.3,-0.9L-0.5,0.9M1.6,-0.4L0.3,0.9M1.6,0.4L1.1,0.9",
          "M-1.6,-0.9H1.6V0.9H-1.6ZM1.1,-0.9L1.6,-0.4M0.3,-0.9L1.6,0.4M-0.5,-0.9L1.3,0.9M-1.3,-0.9L0.5,0.9M-1.6,-0.4L-0.3,0.9M-1.6,0.4L-1.1,0.9",
          "M-1.6,-0.9H1.6V0.9H-1.6Z",
          "M-1.6,-0.9H1.6V0.9H-1.6ZM1.1,-0.9L1.6,-0.4M0.3,-0.9L1.6,0.4M-0.5,-0.9L1.3,0.9M-1.3,-0.9L0.5,0.9M-1.6,-0.4L-0.3,0.9M-1.6,0.4L-1.1,0.9",
          "M-1.6,-0.9H1.6V0.9H-1.6ZM-1.1,-0.9L-1.6,-0.4M-0.3,-0.9L-1.6,0.4M0.5,-0.9L-1.3,0.9M1.3,-0.9L-0.5,0.9M1.6,-0.4L0.3,0.9M1.6,0.4L1.1,0.9",
          "M-1.6,-0.9H1.6V0.9H-1.6ZM-0.9,-0.9L-1.6,-0.2M0.3,-0.9L-1.5,0.9M1.5,-0.9L-0.3,0.9M1.6,0.2L0.9,0.9M0.9,-0.9L1.6,-0.2M-0.3,-0.9L1.5,0.9M-1.5,-0.9L0.3,0.9M-1.6,0.2L-0.9,0.9",
          "M-1.6,-0.9H1.6V0.9H-1.6ZM-1.6,0H1.6",
          "M-1.6,-0.9H1.6V0.9H-1.6Z",
          "M-1.6,-0.9H1.6V0.9H-1.6ZM1.1,-0.9L1.6,-0.4M0.3,-0.9L1.6,0.4M-0.5,-0.9L1.3,0.9M-1.3,-0.9L0.5,0.9M-1.6,-0.4L-0.3,0.9M-1.6,0.4L-1.1,0.9",
          "M-1.6,-0.9H1.6V0.9H-1.6ZM-1.1,-0.9L-1.6,-0.4M-0.3,-0.9L-1.6,0.4M0.5,-0.9L-1.3,0.9M1.3,-0.9L-0.5,0.9M1.6,-0.4L0.3,0.9M1.6,0.4L1.1,0.9",
          "M-1.6,-0.9H1.6V0.9H-1.6ZM-0.9,-0.9L-1.6,-0.2M0.3,-0.9L-1.5,0.9M1.5,-0.9L-0.3,0.9M1.6,0.2L0.9,0.9M0.9,-0.9L1.6,-0.2M-0.3,-0.9L1.5,0.9M-1.5,-0.9L0.3,0.9M-1.6,0.2L-0.9,0.9",
          "M-1.6,-0.9H1.6V0.9H-1.6Z"
         ]},
        "legend": {"orient": "none", "legendX": -215, "legendY": 1117.5, "columns": 4, "title": null, "symbolSize": 529, "symbolStrokeWidth": 3, "symbolOffset": 6.9, "labelOffset": 14.1, "labelFontSize": 15.8, "labelFont": "Liberation Sans", "labelColor": "#000", "labelLimit": 0, "columnPadding": 3, "rowPadding": -17, "gridAlign": "each", "symbolOpacity": 1}
       },
       "fill": {"field": "name", "type": "nominal",
        "scale": {"domain": ["Coat Score","Grooming Latency (s)","Grooming Frequency (s)","MAP (mmHg)","Glucose (mg/dl)","Insulin (ng/ml)","Cholesterol (mg/dl)","Nitrotyrosine (ng/ml)","TNF-a (pg/ml)","Cortisol (ng/ml)","PGI₂ (pg/mg)","TxA₂ (pg/mg)","Nitric Oxide (nM/M)","GA Ach Bound (µm)","GA Myogenic Slope (µm/mmHg)","MCA Ach Bound (µm)","MCA Myogenic Slope (µm/mmHg)","Aortic Mch Bound (%)","GSN-M MVD (#/mm²)","GA Stress vs. Strain ß","Cerebral Cortex MVD (#/mm²)","MCA Stress vs. Strain ß"," "],
         "range": ["#000000","#ffffff","#ffffff","#ff0000","#ffffff","#ffffff","#ffffff","#ffffff","#ff8080","#ff8080","#008000","#ffffff","#ffffff","#0000ff","#ffffff","#ffffff","#ffffff","#ffffff","#800000","#ffffff","#ffffff","#ffffff","#ffffff"]},
        "legend": {"orient": "none", "legendX": -215, "legendY": 1117.5, "columns": 4, "title": null, "symbolSize": 529, "symbolStrokeWidth": 3, "symbolOffset": 6.9, "labelOffset": 14.1, "labelFontSize": 15.8, "labelFont": "Liberation Sans", "labelColor": "#000", "labelLimit": 0, "columnPadding": 3, "rowPadding": -17, "gridAlign": "each", "symbolOpacity": 1}
       },
       "stroke": {"field": "name", "type": "nominal",
        "scale": {"domain": ["Coat Score","Grooming Latency (s)","Grooming Frequency (s)","MAP (mmHg)","Glucose (mg/dl)","Insulin (ng/ml)","Cholesterol (mg/dl)","Nitrotyrosine (ng/ml)","TNF-a (pg/ml)","Cortisol (ng/ml)","PGI₂ (pg/mg)","TxA₂ (pg/mg)","Nitric Oxide (nM/M)","GA Ach Bound (µm)","GA Myogenic Slope (µm/mmHg)","MCA Ach Bound (µm)","MCA Myogenic Slope (µm/mmHg)","Aortic Mch Bound (%)","GSN-M MVD (#/mm²)","GA Stress vs. Strain ß","Cerebral Cortex MVD (#/mm²)","MCA Stress vs. Strain ß"," "],
         "range": ["#000000","#000000","#000000","#ff0000","#ff0000","#ff0000","#ff0000","#ff0000","#ff6666","#ff0000","#008000","#008000","#008000","#0000ff","#0000ff","#0000ff","#0000ff","#0000ff","#800000","#800000","#800000","#800000","#ffffff"]},
        "legend": {"orient": "none", "legendX": -215, "legendY": 1117.5, "columns": 4, "title": null, "symbolSize": 529, "symbolStrokeWidth": 3, "symbolOffset": 6.9, "labelOffset": 14.1, "labelFontSize": 15.8, "labelFont": "Liberation Sans", "labelColor": "#000", "labelLimit": 0, "columnPadding": 3, "rowPadding": -17, "gridAlign": "each", "symbolOpacity": 1}
       }
      }
     }
    ]
   },
   {
    "data": {"values": [{"ref": 40}]},
    "mark": {"type": "rule", "color": "#000", "strokeWidth": 1.5},
    "encoding": {"y": {"field": "ref", "type": "quantitative", "scale": {"domain": [0, 110], "nice": false},
      "axis": {"orient": "right", "title": "B", "labels": false, "ticks": false, "domain": false, "grid": false, "titleAngle": 0, "titleX": -714, "titleY": -18, "titleAlign": "left", "titleBaseline": "alphabetic", "titleFontSize": 13.5, "titleFontWeight": "bold", "titleColor": "#000"}}}
   }
  ]
 }
]
}
